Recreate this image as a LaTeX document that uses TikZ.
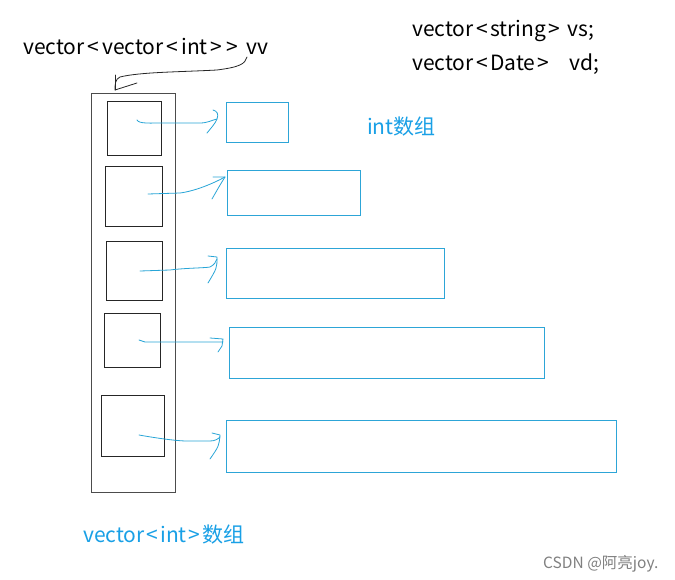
\documentclass[tikz,border=0pt]{standalone}
\usepackage{fontspec}
\newfontfamily\cjk{Noto Sans CJK SC}
\usetikzlibrary{calc}
\definecolor{boxblue}{RGB}{45,165,215}
\definecolor{txtblue}{RGB}{25,160,230}
\definecolor{arrblue}{RGB}{40,165,215}
\newcommand\mylt{\hspace{2.5pt}<\hspace{2.5pt}}
\newcommand\mygt{\hspace{2.5pt}>\hspace{2.5pt}}
\tikzset{
  ibox/.style={draw=black!85, line width=0.9pt, inner sep=0pt},
  obox/.style={draw=black!70, line width=0.9pt, inner sep=0pt},
  bbox/.style={draw=boxblue, line width=0.9pt, inner sep=0pt},
  arr/.style={draw=arrblue, line width=0.8pt, line cap=round, line join=round},
  blk/.style={draw=black!85, line width=0.8pt, line cap=round, line join=round},
  lbl/.style={font=\cjk\fontsize{21}{24}\selectfont, inner sep=0pt},
}
\begin{document}
\begin{tikzpicture}[x=1pt,y=-1pt]
\useasboundingbox[fill=white] (0,0) rectangle (675,580);
% outer vector box
\node[obox, minimum width=84pt, minimum height=399pt] (outer) at (133,292.5) {};
% inner boxes
\node[ibox, minimum width=54pt, minimum height=54pt] (i1) at (134,128) {};
\node[ibox, minimum width=57pt, minimum height=60pt] (i2) at (133.5,196) {};
\node[ibox, minimum width=56pt, minimum height=59pt] (i3) at (134,270.5) {};
\node[ibox, minimum width=56pt, minimum height=54pt] (i4) at (132,340) {};
\node[ibox, minimum width=63pt, minimum height=61pt] (i5) at (132.5,425.5) {};
% blue int arrays
\node[bbox, minimum width=62pt, minimum height=40pt] (b1) at (257,122) {};
\node[bbox, minimum width=133pt, minimum height=45pt] (b2) at (293.5,192.5) {};
\node[bbox, minimum width=218pt, minimum height=50pt] (b3) at (335,273) {};
\node[bbox, minimum width=315pt, minimum height=51pt] (b4) at (386.5,352.5) {};
\node[bbox, minimum width=390pt, minimum height=52pt] (b5) at (421,446) {};
% texts
\node[lbl, anchor=base west] (vv) at (23,55) {vector\hspace{3pt}<\hspace{3pt}vector\hspace{3pt}<\hspace{3pt}int\hspace{3pt}>\hspace{4pt}>\hspace{8pt}vv};
\node[lbl, anchor=base west] (vs) at (412,37) {vector\mylt string\mygt{} vs;};
\node[lbl, anchor=base west] (vd) at (412,71) {vector\mylt Date\hspace{2.5pt}>\hspace{20pt}vd;};
\node[lbl, anchor=base west, text=txtblue] (ia) at (367,135) {int数组};
\node[lbl, anchor=base west, text=txtblue] (va) at (83,542) {vector\hspace{2pt}<\hspace{2pt}int\hspace{2pt}>\hspace{2pt}数组};
\node[font=\cjk\fontsize{15.5}{18}\selectfont, text=black!50, anchor=base west, inner sep=0pt] (wm) at (543,568) {CSDN @阿亮joy.};
% arrow from vv to outer box
\coordinate (c0) at (247,57);
\coordinate (c1) at (115,90);
\draw[blk] (c0) .. controls (245,64) and (240,67) .. (217,70) .. controls (180,72) and (140,72) .. (120,77) .. controls (115,79) and (115,85) .. (c1) -- (137,83);
\draw[blk] (115,75) -- (c1);
% arrows from inner boxes to blue arrays
\coordinate (s1) at (137,120); \coordinate (t1) at (217,119);
\draw[arr] (s1) .. controls (139,124) and (150,123) .. (165,123) -- (200,123) .. controls (208,123) and (212,120) .. (t1);
\draw[arr] (213,110) .. controls (217,111) and (219,114) .. (t1) .. controls (215,124) and (211,128) .. (207,133);
\coordinate (s2) at (148,194); \coordinate (t2) at (225,177);
\draw[arr] (s2) -- (180,193) .. controls (195,191) and (212,184) .. (t2);
\draw[arr] (213,177) -- (t2) .. controls (220,185) .. (212,199);
\coordinate (s3) at (140,271); \coordinate (t3) at (217,259);
\draw[arr] (s3) -- (170,270) .. controls (185,268) and (205,268) .. (210,267) .. controls (214,265) and (216,262) .. (t3);
\draw[arr] (208,256) -- (217,257) .. controls (217,268) .. (208,283);
\coordinate (s4) at (139,340); \coordinate (t4) at (223,342);
\draw[arr] (s4) -- (145,342) -- (t4);
\draw[arr] (210,338) -- (223,339) -- (222,346) -- (218,352);
\coordinate (s5) at (139,435); \coordinate (t5) at (220,437);
\draw[arr] (s5) .. controls (150,437) and (175,441) .. (187,441) -- (210,441) .. controls (215,441) and (218,439) .. (t5);
\draw[arr] (212,433) -- (220,435) .. controls (219,446) .. (210,459);
\end{tikzpicture}
\end{document}
